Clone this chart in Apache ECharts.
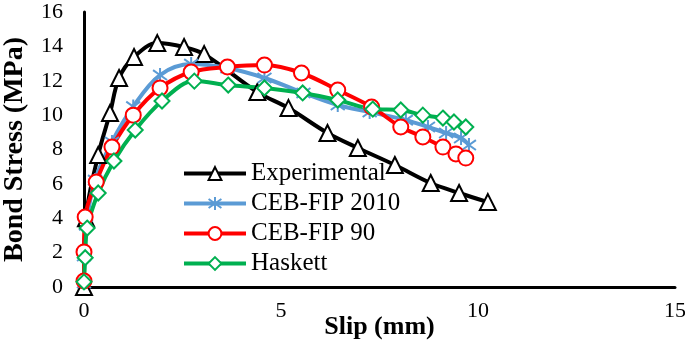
<!DOCTYPE html>
<html>
<head>
<meta charset="utf-8">
<script src="https://cdn.jsdelivr.net/npm/echarts@6/dist/echarts.min.js"></script>
<style>
  html, body { margin: 0; padding: 0; background: #fff; }
  #chart { width: 685px; height: 347px; }
</style>
</head>
<body>
<div id="chart"></div>
<script>
// values
const expSlip = [0, 0.05, 0.36, 0.66, 0.89, 1.27, 1.86, 2.54, 3.05, 4.40, 5.19, 6.18, 6.95, 7.89, 8.80, 9.52, 10.25];
const expStress = [0, 4.0, 7.68, 10.12, 12.16, 13.38, 14.19, 13.96, 13.55, 11.34, 10.41, 8.96, 8.09, 7.10, 6.05, 5.47, 4.94];

const ceb2010Slip = [0, 0, 0.05, 0.28, 0.71, 1.25, 1.93, 2.72, 3.64, 4.58, 5.57, 6.44, 7.25, 8.17, 8.73, 9.19, 9.57, 9.77];
const ceb2010Stress = [0.23, 1.8, 3.6, 6.22, 8.44, 10.5, 12.33, 12.97, 12.74, 12.16, 11.29, 10.59, 10.18, 9.71, 9.31, 8.96, 8.67, 8.26];

const ceb90Slip = [0, 0, 0.03, 0.31, 0.71, 1.25, 1.93, 2.72, 3.64, 4.58, 5.52, 6.44, 7.30, 8.04, 8.60, 9.11, 9.44, 9.69];
const ceb90Stress = [0.35, 2.04, 4.07, 6.11, 8.14, 10.0, 11.58, 12.51, 12.8, 12.91, 12.45, 11.46, 10.47, 9.31, 8.73, 8.14, 7.74, 7.5];

const haskettSlip = [0, 0.03, 0.08, 0.36, 0.76, 1.3, 1.98, 2.8, 3.66, 4.58, 5.55, 6.44, 7.33, 8.04, 8.6, 9.11, 9.39, 9.69];
const haskettStress = [0.3, 1.7, 3.43, 5.47, 7.33, 9.13, 10.82, 11.98, 11.75, 11.58, 11.29, 10.88, 10.35, 10.3, 10.0, 9.83, 9.6, 9.31];

const xTicks = [0, 5, 10, 15];
const yTicks = [0, 2, 4, 6, 8, 10, 12, 14, 16];

const pairs = (xs, ys) => xs.map((x, i) => [x, ys[i]]);

const FONT = 'Liberation Serif';
const asterisk = 'path://M10 0 L10 20 M2.9 2.9 L17.1 17.1 M17.1 2.9 L2.9 17.1';

const chart = echarts.init(document.getElementById('chart'));

const makeSeries = (name, data, color, symbol, size) => ({
  name,
  type: 'line',
  smooth: 0.35,
  data,
  symbol,
  symbolSize: size,
  lineStyle: { color, width: 4 },
  itemStyle: { color: '#fff', borderColor: color, borderWidth: 2 },
  emphasis: { disabled: true },
  z: 2
});

chart.setOption({
  animation: false,
  grid: { left: 84, right: 10, top: 12, bottom: 60, outerBoundsMode: 'none', containLabel: false },
  legend: {
    orient: 'vertical',
    left: 177,
    top: 156,
    itemWidth: 62,
    itemHeight: 16,
    itemGap: 5,
    lineStyle: { width: 4 },
    textStyle: { fontFamily: FONT, fontSize: 25, color: '#000' },
    data: ['Experimental', 'CEB-FIP 2010', 'CEB-FIP 90', 'Haskett']
  },
  xAxis: {
    type: 'value',
    min: xTicks[0],
    max: xTicks[xTicks.length - 1],
    interval: 5,
    name: 'Slip (mm)',
    nameLocation: 'middle',
    nameGap: 27,
    nameMoveOverlap: false,
    nameTextStyle: { fontFamily: FONT, fontSize: 26, fontWeight: 'bold', color: '#000' },
    axisLine: { lineStyle: { color: '#000', width: 3 } },
    axisTick: { show: false },
    splitLine: { show: false },
    axisLabel: { fontFamily: FONT, fontSize: 22, color: '#000', margin: 13 }
  },
  yAxis: {
    type: 'value',
    min: yTicks[0],
    max: yTicks[yTicks.length - 1],
    interval: 2,
    name: 'Bond Stress (MPa)',
    nameLocation: 'middle',
    nameGap: 55,
    nameMoveOverlap: false,
    nameTextStyle: { fontFamily: FONT, fontSize: 28, fontWeight: 'bold', color: '#000' },
    axisLine: { show: true, lineStyle: { color: '#000', width: 3 } },
    axisTick: { show: false },
    splitLine: { show: false },
    axisLabel: { fontFamily: FONT, fontSize: 22, color: '#000', margin: 21 }
  },
  series: [
    makeSeries('Experimental', pairs(expSlip, expStress), '#000000', 'triangle', 16),
    makeSeries('CEB-FIP 2010', pairs(ceb2010Slip, ceb2010Stress), '#5B9BD5', asterisk, 14),
    makeSeries('CEB-FIP 90', pairs(ceb90Slip, ceb90Stress), '#FF0000', 'circle', 15),
    makeSeries('Haskett', pairs(haskettSlip, haskettStress), '#00B050', 'diamond', 15)
  ]
});
</script>
</body>
</html>
